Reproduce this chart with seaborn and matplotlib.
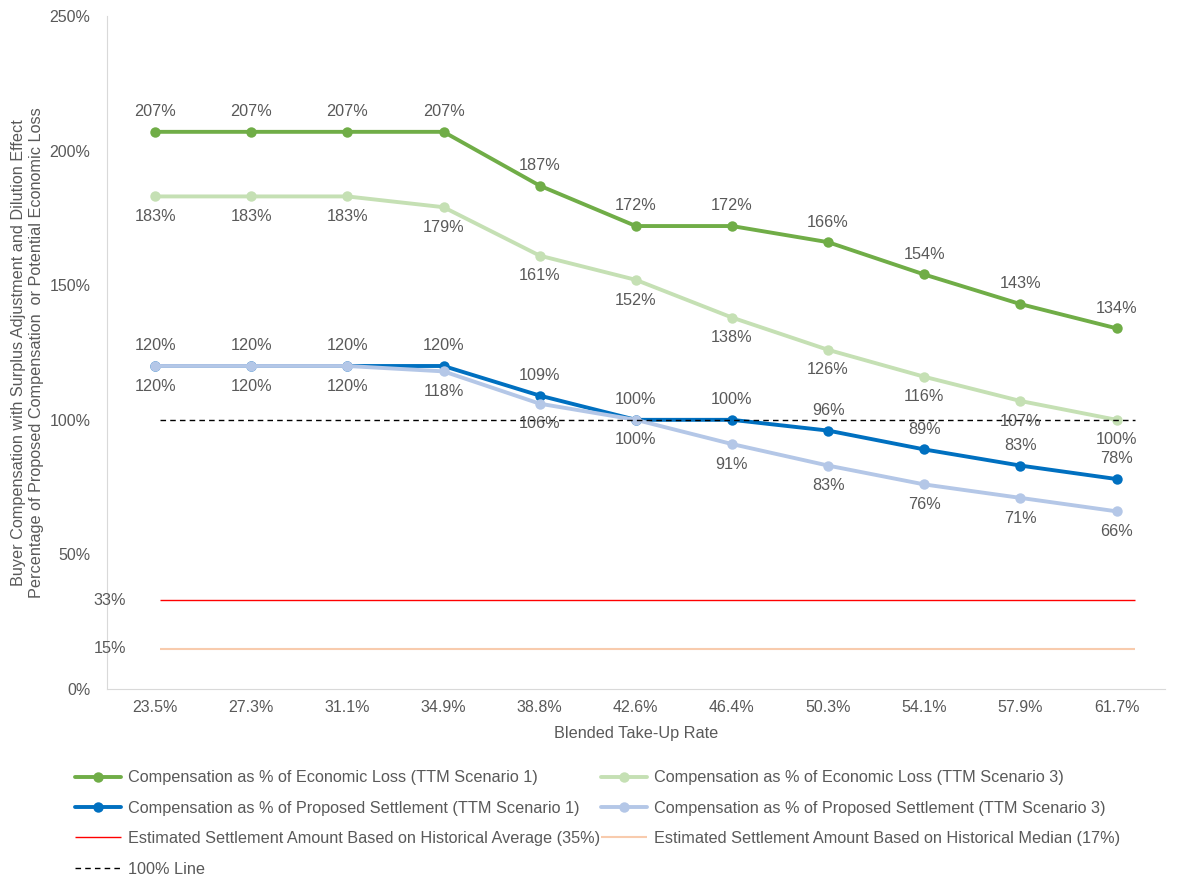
import numpy as np
import pandas as pd
import matplotlib
matplotlib.use("Agg")
import matplotlib.pyplot as plt
import seaborn as sns

# chart data
take_up = ["23.5%", "27.3%", "31.1%", "34.9%", "38.8%", "42.6%", "46.4%", "50.3%", "54.1%", "57.9%", "61.7%"]
econ_s1 = [207, 207, 207, 207, 187, 172, 172, 166, 154, 143, 134]
econ_s3 = [183, 183, 183, 179, 161, 152, 138, 126, 116, 107, 100]
settle_s1 = [120, 120, 120, 120, 109, 100, 100, 96, 89, 83, 78]
settle_s3 = [120, 120, 120, 118, 106, 100, 91, 83, 76, 71, 66]
hist_avg = 33
hist_median = 15
line_100 = 100

sns.set_style("white")
plt.rcParams["font.family"] = ["Liberation Sans", "DejaVu Sans"]
txt = "#595959"
fs = 11.7

fig = plt.figure(figsize=(11.79, 8.75), dpi=100)
ax = fig.add_axes([0.0908, 0.2126, 0.897, 0.769])

x = np.arange(len(take_up))

series = [
    ("Compensation as % of Economic Loss (TTM Scenario 1)", econ_s1, "#70AD47", 1),
    ("Compensation as % of Economic Loss (TTM Scenario 3)", econ_s3, "#C5E0B4", -1),
    ("Compensation as % of Proposed Settlement (TTM Scenario 1)", settle_s1, "#0070C0", 1),
    ("Compensation as % of Proposed Settlement (TTM Scenario 3)", settle_s3, "#B4C7E7", -1),
]

for name, vals, col, side in series:
    sns.lineplot(x=x, y=vals, ax=ax, color=col, lw=2.8, marker="o", markersize=7.5,
                 markeredgewidth=0, label=name)
    for xi, v in zip(x, vals):
        ax.annotate(f"{v}%", (xi, v), xytext=(0, 14.5 * side), textcoords="offset points",
                    ha="center", va="center", fontsize=fs, color=txt)

# reference lines
ax.hlines(hist_avg, 0.05, 10.19, color="#FF0000", lw=1, label="Estimated Settlement Amount Based on Historical Average (35%)")
ax.hlines(hist_median, 0.05, 10.19, color="#F8CBAD", lw=1.5, label="Estimated Settlement Amount Based on Historical Median (17%)")
ax.hlines(line_100, 0.05, 10.19, color="black", lw=1, linestyles=(0, (4, 3)), label="100% Line")
ax.text(-0.3, hist_avg, f"{hist_avg}%", ha="right", va="center", fontsize=fs, color=txt)
ax.text(-0.3, hist_median, f"{hist_median}%", ha="right", va="center", fontsize=fs, color=txt)

ax.set_xlim(-0.5, len(take_up) - 0.5)
ax.set_ylim(0, 250)
ax.set_xticks(x)
ax.set_xticklabels(take_up)
ax.set_yticks([0, 50, 100, 150, 200, 250])
ax.set_yticklabels([f"{t}%" for t in [0, 50, 100, 150, 200, 250]])
ax.tick_params(axis="both", length=0, labelsize=11.5, labelcolor=txt, pad=8)
ax.yaxis.set_tick_params(pad=12)

for s in ["top", "right"]:
    ax.spines[s].set_visible(False)
for s in ["left", "bottom"]:
    ax.spines[s].set_color("#D9D9D9")

ax.set_xlabel("Blended Take-Up Rate", fontsize=fs, color=txt, labelpad=8)
ax.set_ylabel("Buyer Compensation with Surplus Adjustment and Dilution Effect\n"
              "Percentage of Proposed Compensation  or Potential Economic Loss",
              fontsize=fs, color=txt, labelpad=4)

# row-wise legend order (matplotlib fills columns first)
h, l = ax.get_legend_handles_labels()
order = [0, 2, 4, 6, 1, 3, 5]
leg = ax.legend([h[i] for i in order], [l[i] for i in order], ncol=2, loc="upper left",
                bbox_to_anchor=(-0.044, -0.099), frameon=False, fontsize=fs, labelcolor=txt,
                handlelength=2.85, columnspacing=0.05, labelspacing=0.95, handletextpad=0.4)

fig.savefig("out.png", dpi=100)
